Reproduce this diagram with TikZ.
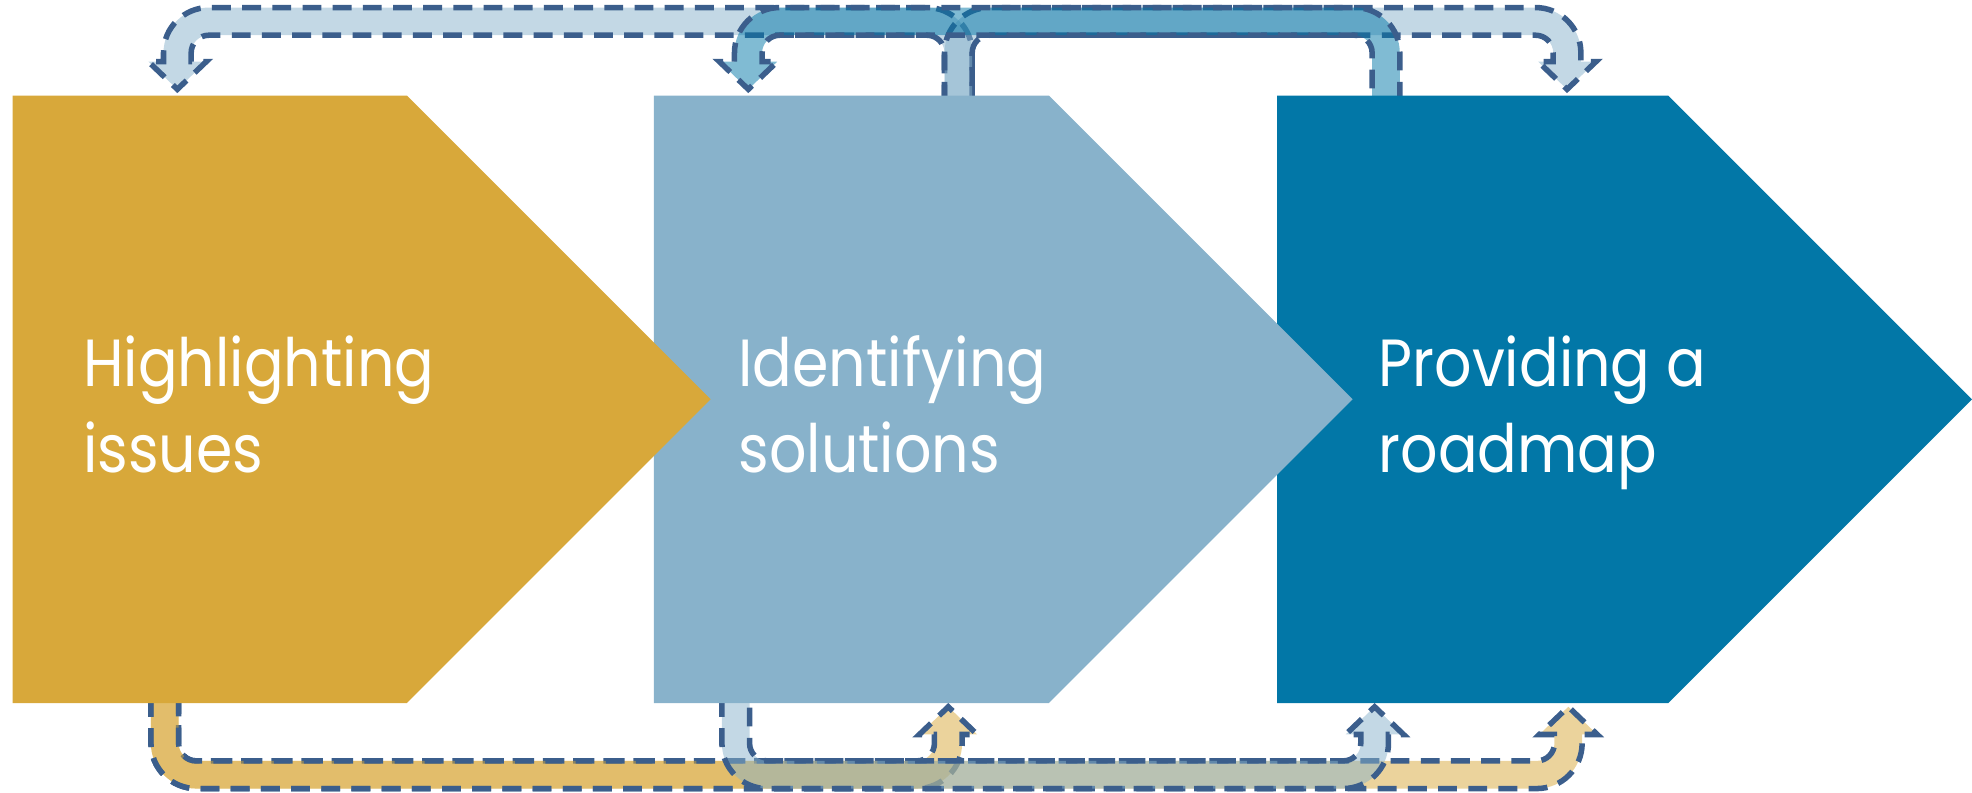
\documentclass[tikz,border=0pt]{standalone}
\usepackage{fontspec}
\setmainfont{Poppins}[FakeStretch=0.88]
\definecolor{cgold}{RGB}{216,168,58}
\definecolor{clight}{RGB}{136,178,203}
\definecolor{cdark}{RGB}{2,119,167}
\definecolor{cline}{RGB}{59,94,140}
\newdimen\Ud
% #1 style, #2 stem start coordinate, #3 tip coordinate, #4 band coordinate
\newcommand\uturn[4]{%
  \pgfextractx{\Ud}{\pgfpointanchor{#2}{center}}\pgfmathsetmacro\Us{\the\Ud}%
  \pgfextracty{\Ud}{\pgfpointanchor{#2}{center}}\pgfmathsetmacro\Uys{\the\Ud}%
  \pgfextractx{\Ud}{\pgfpointanchor{#3}{center}}\pgfmathsetmacro\Ue{\the\Ud}%
  \pgfextracty{\Ud}{\pgfpointanchor{#3}{center}}\pgfmathsetmacro\Uyt{\the\Ud}%
  \pgfextracty{\Ud}{\pgfpointanchor{#4}{center}}\pgfmathsetmacro\Uyc{\the\Ud}%
  \pgfmathsetmacro\Uhx{sign(\Ue-\Us)}%
  \pgfmathsetmacro\Usy{sign(\Uyc-\Uys)}%
  \pgfmathsetmacro\Uyo{\Uyc+(\Usy)*11}%
  \pgfmathsetmacro\Uyi{\Uyc-(\Usy)*11}%
  \pgfmathsetmacro\Uyb{\Uyt+(\Usy)*22}%
  \pgfmathsetmacro\Uxso{\Us-(\Uhx)*11}%
  \pgfmathsetmacro\Uxsi{\Us+(\Uhx)*11}%
  \pgfmathsetmacro\Uxeo{\Ue+(\Uhx)*11}%
  \pgfmathsetmacro\Uxei{\Ue-(\Uhx)*11}%
  \pgfmathsetmacro\UcA{\Uyo-(\Usy)*36}%
  \pgfmathsetmacro\UcB{\Uyo-(\Usy)*36*0.4477}%
  \pgfmathsetmacro\UcC{\Uxso+(\Uhx)*36*0.4477}%
  \pgfmathsetmacro\UcD{\Uxso+(\Uhx)*36}%
  \pgfmathsetmacro\UcE{\Uxeo-(\Uhx)*36}%
  \pgfmathsetmacro\UcF{\Uxeo-(\Uhx)*36*0.4477}%
  \pgfmathsetmacro\UcG{\Ue+(\Uhx)*23}%
  \pgfmathsetmacro\UcH{\Ue-(\Uhx)*23}%
  \pgfmathsetmacro\UcI{\Uyi-(\Usy)*14}%
  \pgfmathsetmacro\UcJ{\Uyi-(\Usy)*14*0.4477}%
  \pgfmathsetmacro\UcK{\Uxei-(\Uhx)*14*0.4477}%
  \pgfmathsetmacro\UcL{\Uxei-(\Uhx)*14}%
  \pgfmathsetmacro\UcM{\Uxsi+(\Uhx)*14}%
  \pgfmathsetmacro\UcN{\Uxsi+(\Uhx)*14*0.4477}%
  \path[#1] (\Uxso pt,\Uys pt) -- (\Uxso pt,\UcA pt)
    .. controls (\Uxso pt,\UcB pt) and (\UcC pt,\Uyo pt) .. (\UcD pt,\Uyo pt)
    -- (\UcE pt,\Uyo pt)
    .. controls (\UcF pt,\Uyo pt) and (\Uxeo pt,\UcB pt) .. (\Uxeo pt,\UcA pt)
    -- (\Uxeo pt,\Uyb pt) -- (\UcG pt,\Uyb pt) -- (\Ue pt,\Uyt pt)
    -- (\UcH pt,\Uyb pt) -- (\Uxei pt,\Uyb pt) -- (\Uxei pt,\UcI pt)
    .. controls (\Uxei pt,\UcJ pt) and (\UcK pt,\Uyi pt) .. (\UcL pt,\Uyi pt)
    -- (\UcM pt,\Uyi pt)
    .. controls (\UcN pt,\Uyi pt) and (\Uxsi pt,\UcJ pt) .. (\Uxsi pt,\UcI pt)
    -- (\Uxsi pt,\Uys pt) -- cycle;%
}
\tikzset{
  arrowbase/.style={draw=cline, line width=4.4pt, dash pattern=on 15pt off 9pt, fill opacity=0.5},
  palearrow/.style={arrowbase, fill=clight},
  darkarrow/.style={arrowbase, fill=cdark},
  goldarrow/.style={arrowbase, fill=cgold},
  lbl/.style={text=white, anchor=base west, inner sep=0pt, font=\fontsize{53}{64}\selectfont}
}
\begin{document}
\begin{tikzpicture}[x=1pt,y=-1pt]
\useasboundingbox (0,0) rectangle (1568,630);
% band levels
\coordinate (topband) at (0,17);
\coordinate (botband) at (0,616);
% stem starts (slightly inside the chevrons) and arrow tips
\coordinate (s2top) at (762,80);
\coordinate (s3top) at (1102,80);
\coordinate (s1bot) at (131,555);
\coordinate (s2bot) at (585,555);
\coordinate (in1top) at (141,71);
\coordinate (in2top) at (595,71);
\coordinate (in3top) at (1246,71);
\coordinate (in2bot) at (754,562);
\coordinate (in3bota) at (1093,562);
\coordinate (in3botb) at (1247,562);
% top connectors
\uturn{palearrow}{s2top}{in1top}{topband}
\uturn{palearrow}{s2top}{in3top}{topband}
\uturn{darkarrow}{s3top}{in2top}{topband}
% bottom connectors
\uturn{goldarrow}{s1bot}{in2bot}{botband}
\uturn{goldarrow}{s1bot}{in3botb}{botband}
\uturn{palearrow}{s2bot}{in3bota}{botband}
% chevrons
\fill[cdark] (1015.5,76) -- (1326.5,76) -- (1568,317.5) -- (1326.5,559) -- (1015.5,559) -- cycle;
\fill[clight] (520,76) -- (834,76) -- (1075.5,317.5) -- (834,559) -- (520,559) -- cycle;
\fill[cgold] (10,76) -- (323.5,76) -- (565,317.5) -- (323.5,559) -- (10,559) -- cycle;
% labels
\node[lbl] (t1a) at (66,307) {Highlighting};
\node[lbl] (t1b) at (66,376) {issues};
\node[lbl] (t2a) at (587,307) {Identifying};
\node[lbl] (t2b) at (587,376) {solutions};
\node[lbl] (t3a) at (1096,307) {Providing a};
\node[lbl] (t3b) at (1096,376) {roadmap};
\end{tikzpicture}
\end{document}
